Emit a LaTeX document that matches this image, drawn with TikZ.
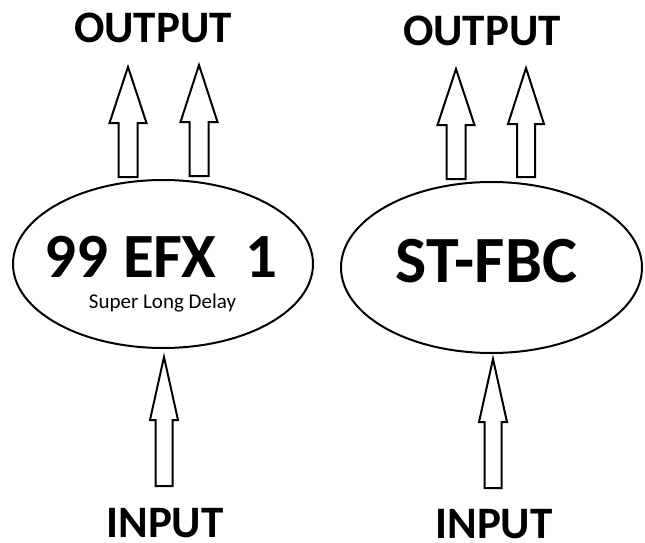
\documentclass[tikz,border=0pt]{standalone}
\usepackage{fontspec}
\setmainfont{Carlito}
\usetikzlibrary{shapes.geometric}
\newcommand{\blockarrow}[6]{% tipx, tipy, headbase, bottom, headhalf, shafthalf
  \draw[arrowline] (#1,#2) -- ({#1+#5},#3) -- ({#1+#6},#3) -- ({#1+#6},#4)
    -- ({#1-#6},#4) -- ({#1-#6},#3) -- ({#1-#5},#3) -- cycle;}
\tikzset{
  arrowline/.style={line width=2pt, line join=miter, fill=white},
  unit/.style={draw, ellipse, line width=2pt, inner sep=0pt},
  bigtitle/.style={font=\bfseries\fontsize{45}{48}\selectfont, anchor=base, inner sep=0pt},
  devname/.style={font=\bfseries\fontsize{63}{70}\selectfont, anchor=base, inner sep=0pt},
  subname/.style={font=\fontsize{21}{24}\selectfont, anchor=base, inner sep=0pt}
}
\begin{document}
\begin{tikzpicture}[x=1pt,y=-1pt]
\useasboundingbox[fill=white] (0,0) rectangle (645,543);
% ellipses
\node[unit, minimum width=300pt, minimum height=168pt] (efx) at (163,264) {};
\node[unit, minimum width=301pt, minimum height=171pt] (fbc) at (491.5,267.5) {};
% labels
\node[devname] (efxname) at (161,277) {99 EFX\ \ 1};
\node[subname] (efxsub) at (162.5,308) {Super Long Delay};
\node[devname, font=\bfseries\fontsize{66}{72}\selectfont] (fbcname) at (486.5,282) {ST-FBC};
\node[bigtitle] (out1) at (153,43) {OUTPUT};
\node[bigtitle] (out2) at (482,46) {OUTPUT};
\node[bigtitle] (in1) at (165,537) {INPUT};
\node[bigtitle] (in2) at (494,538) {INPUT};
% block arrows
\blockarrow{128}{67}{123}{177}{18.5}{9.5}
\blockarrow{199}{65}{122}{176}{18.5}{9.5}
\blockarrow{456}{69}{125}{179}{18.5}{9.5}
\blockarrow{526}{68}{124}{177}{18}{9}
\blockarrow{164}{357}{420}{486}{14}{8.5}
\blockarrow{493}{359}{422}{488}{14}{8.5}
\end{tikzpicture}
\end{document}
